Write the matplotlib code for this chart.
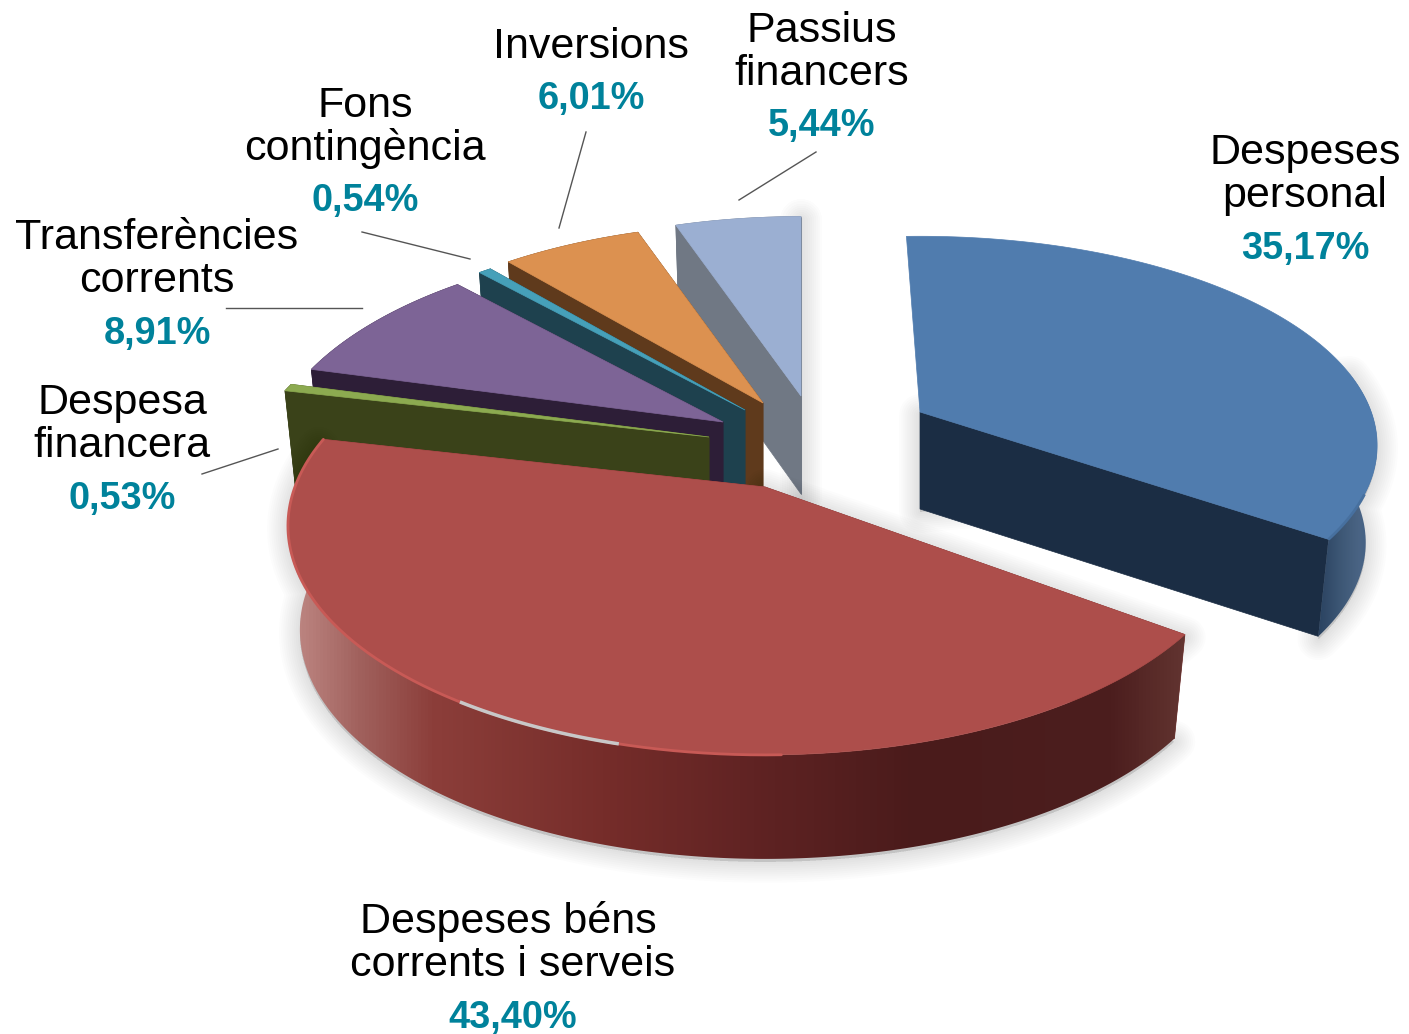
import numpy as np
import matplotlib
matplotlib.use('Agg')
import matplotlib.pyplot as plt
from matplotlib.colors import LinearSegmentedColormap
from matplotlib.patches import Polygon

plt.rcParams['font.family'] = ['Liberation Sans', 'DejaVu Sans']

names = ['Despeses\npersonal', 'Despeses béns\ncorrents i serveis', 'Despesa\nfinancera',
         'Transferències\ncorrents', 'Fons\ncontingència', 'Inversions', 'Passius\nfinancers']
values = [35.17, 43.40, 0.53, 8.91, 0.54, 6.01, 5.44]

# colours of the top face and the cut faces
top_colors = ['#507cae', '#ad4e4b', '#8caa50', '#7d6496', '#46a0b9', '#dc9150', '#9bafd2']
side_colors = ['#1b2d44', '#6e2a28', '#3a4219', '#2d1e37', '#1e414e', '#5f3a1c', '#707884']

# where each exploded slice has its tip, in pixels, and how it is projected
tip_x = [920, 765, 709, 723, 745, 763, 801]
tip_y = [412, 487, 437, 422, 410, 403, 396]
rx_scale = [1.005, 1.047, 1.015, 1.0, 1.0, 1.0, 1.0]
ry_scale = [0.935, 1.02, 1.0, 1.0, 1.0, 1.0, 1.0]
persp = [0.16, 0.17, 0.215, 0.215, 0.215, 0.215, 0.215]
turn = [-2, 0, 0, 0, 0, 0, 0]
depth = [97, 104, 98, 98, 98, 98, 98]

label_x = [1305, 513, 122, 157, 365, 591, 822]
first_dx = [0, -5, 0, 0, 0, 0, 0]
label_y = [164, 933, 414, 249, 117, 58, 42]
pct_y = [259, 1028, 509, 344, 211, 109, 136]

leaders = [None, None, ((202, 278), (474, 449)), ((226, 362), (308, 308)),
           ((362, 470), (232, 259)), ((559, 586), (228, 132)), ((739, 816), (200, 152))]

RX, RY = 449, 218

fig = plt.figure(figsize=(14.09, 10.34), dpi=100)
ax = fig.add_axes([0, 0, 1, 1])


def rim(theta, i):
    u, v = np.sin(theta), np.cos(theta)
    s = 1 / (1 + persp[i] * v)
    return tip_x[i] + RX * rx_scale[i] * u * s, tip_y[i] - RY * ry_scale[i] * v * s


def drop(x, y, i):
    # the walls lean in a little towards the tip
    return tip_x[i] + (np.asarray(x) - tip_x[i]) * 0.975, np.asarray(y) + depth[i]


def shadow(x, y, z):
    for lw in range(30, 0, -3):
        ax.fill(x, np.asarray(y) + 3, color='k', alpha=0.012, lw=lw, joinstyle='round', zorder=z)


def rim_gradient(x, y, stops, z):
    poly = Polygon(np.column_stack([x, y]), closed=True, transform=ax.transData, fc='none', ec='none')
    ax.add_patch(poly)
    cmap = LinearSegmentedColormap.from_list('rim', stops)
    im = ax.imshow(np.linspace(0, 1, 256)[None, :], cmap=cmap, extent=(min(x), max(x), max(y), min(y)),
                   aspect='auto', zorder=z)
    im.set_clip_path(poly)


red_stops = [(0, '#c08a86'), (0.08, '#a0605c'), (0.16, '#8c3e3a'), (0.35, '#762d2a'),
             (0.52, '#602323'), (0.7, '#4a1b1b'), (0.92, '#4c1e1e'), (1, '#623430')]
blue_stops = [(0, '#2a4260'), (0.4, '#3e5876'), (0.7, '#4a6484'), (1, '#3f5f88')]

fractions = np.array(values) / sum(values)
starts = np.cumsum(np.r_[0, fractions[:-1]]) * 2 * np.pi
spans = fractions * 2 * np.pi

# far slices first, so the near ones paint over them
z = 1
for i in [6, 5, 4, 3, 2, 1, 0]:
    t0 = starts[i] + np.radians(turn[i])
    theta = np.linspace(t0, t0 + spans[i], 300)
    top_x, top_y = rim(theta, i)
    bot_x, bot_y = drop(top_x, top_y, i)
    tipb_y = tip_y[i] + depth[i]

    # only the near part of a big slice has a wall that can be seen
    seen = np.cos(theta) < 0.2 if i < 2 else np.ones(theta.size, dtype=bool)

    if i < 2:
        shadow(np.r_[tip_x[i], top_x[seen], bot_x[seen][::-1], tip_x[i]],
               np.r_[tip_y[i], top_y[seen], bot_y[seen][::-1], tipb_y], z)
    elif i == 6:
        shadow([tip_x[i], top_x[-1], tip_x[i]], [tip_y[i], top_y[-1], tipb_y], z)
    z += 1

    # the cut faces
    for k in (0, -1):
        if i == 0 and k == 0:
            continue
        ax.fill([tip_x[i], top_x[k], bot_x[k], tip_x[i]], [tip_y[i], top_y[k], bot_y[k], tipb_y],
                color=side_colors[i], lw=0.5, zorder=z)
        z += 1

    # outer wall
    wall_x = np.r_[top_x[seen], bot_x[seen][::-1]]
    wall_y = np.r_[top_y[seen], bot_y[seen][::-1]]
    if i == 1:
        rim_gradient(wall_x, wall_y, red_stops, z)
    elif i == 0:
        rim_gradient(wall_x, wall_y, blue_stops, z)
    else:
        ax.fill(wall_x, wall_y, color=side_colors[i], lw=0.5, zorder=z)
    z += 1

    ax.fill(np.r_[tip_x[i], top_x], np.r_[tip_y[i], top_y], color=top_colors[i], lw=0.5, zorder=z)
    z += 1

    # lit edge on the rounded rim, and the small gap in it
    if i == 1:
        lit = theta > np.radians(178)
        ax.plot(top_x[lit], top_y[lit], color='#c85a56', lw=2, solid_capstyle='round', zorder=z)
        z += 1
        gap = (theta > np.radians(195)) & (theta < np.radians(214))
        ax.plot(top_x[gap], top_y[gap], color='#c8c8c8', lw=2.5, solid_capstyle='butt', zorder=z)
        z += 1
    elif i == 0:
        lit = theta > np.radians(112)
        ax.plot(top_x[lit], top_y[lit], color='#47709f', lw=2, solid_capstyle='butt', zorder=z)
        z += 1

for i, name in enumerate(names):
    for j, line in enumerate(name.split('\n')):
        dx = first_dx[i] if j == 0 else 0
        ax.text(label_x[i] + dx, label_y[i] + 43 * j, line, ha='center', va='baseline', fontsize=31, color='k', zorder=z)
    ax.text(label_x[i], pct_y[i], f'{values[i]:.2f}%'.replace('.', ','), ha='center', va='baseline',
            fontsize=27.3, fontweight='bold', color='#00829b', zorder=z)
    if leaders[i] is not None:
        ax.plot(leaders[i][0], leaders[i][1], color='#555555', lw=1, zorder=z)

ax.set_xlim(0, 1409)
ax.set_ylim(1034, 0)
ax.axis('off')
fig.savefig('out.png', dpi=100)
